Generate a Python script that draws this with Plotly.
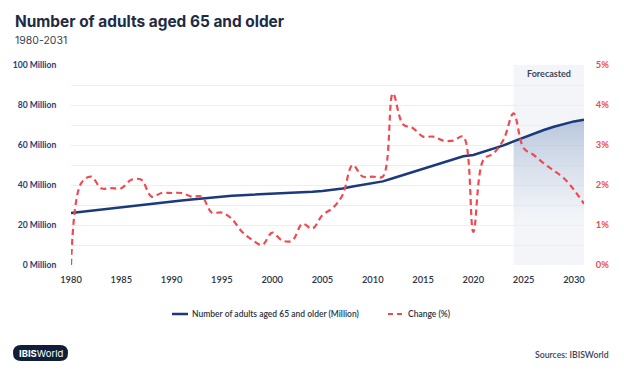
import plotly.graph_objects as go

# ---------------- data ----------------
years = list(range(1980, 2032))
adults_million = [
    26.0, 26.6, 27.2, 27.7, 28.2, 28.8, 29.4, 30.0, 30.5, 31.1,
    31.7, 32.3, 32.8, 33.3, 33.8, 34.3, 34.6, 34.9, 35.1, 35.3,
    35.6, 35.8, 36.0, 36.3, 36.6, 37.0, 37.6, 38.3, 39.2, 40.0,
    40.9, 41.8, 43.4, 45.0, 46.6, 48.2, 49.8, 51.4, 53.0, 54.4,
    55.0, 56.5, 58.0, 59.8, 61.8, 63.8, 65.7, 67.5, 69.1, 70.6,
    71.8, 72.6,
]
change_pct = [
    0.00, 2.04, 2.21, 1.92, 1.92, 1.92, 2.13, 2.13, 1.71, 1.80,
    1.80, 1.80, 1.71, 1.71, 1.31, 1.31, 1.15, 0.83, 0.63, 0.50,
    0.81, 0.61, 0.61, 1.03, 0.91, 1.25, 1.42, 1.75, 2.50, 2.21,
    2.21, 2.21, 4.29, 3.52, 3.42, 3.21, 3.21, 3.11, 3.11, 3.21,
    0.83, 2.63, 2.79, 3.13, 3.79, 2.92, 2.75, 2.54, 2.36, 2.17,
    1.88, 1.53,
]
forecast_start = 2024
x_ticks = [1980, 1985, 1990, 1995, 2000, 2005, 2010, 2015, 2020, 2025, 2030]
left_ticks = [0, 10, 20, 30, 40, 50, 60, 70, 80, 90, 100]
left_labels = ["0 Million", "", "20 Million", "", "40 Million", "", "60 Million", "",
               "80 Million", "", "100 Million"]
right_ticks = [0, 1, 2, 3, 4, 5]
right_labels = ["0%", "1%", "2%", "3%", "4%", "5%"]

title_text = "Number of adults aged 65 and older"
subtitle_text = "1980-2031"
series_names = ["Number of adults aged 65 and older (Million)", "Change (%)"]

# ---------------- layout helpers (pixel -> paper) ----------------
W, H = 624, 376
L, R, T, B = 71, 584, 65, 265


def px(x):
    return (x - L) / (R - L)


def py(y):
    return (B - y) / (B - T)


FONT = "Inter, Lato, sans-serif"
SMALL = "Lato, Inter, sans-serif"
BLUE = "#1b3a7b"
RED = "#f04a50"
TEXT = "#2b3242"

fi = years.index(forecast_start)

fig = go.Figure()

# gradient fill under forecast portion
fig.add_trace(go.Scatter(
    x=years[fi:], y=adults_million[fi:],
    mode="lines", line=dict(width=0, color=BLUE),
    fill="tozeroy",
    fillgradient=dict(type="vertical",
                      colorscale=[[0, "rgba(150,172,205,0)"], [1, "rgba(110,140,185,0.45)"]],
                      start=22, stop=73),
    showlegend=False, hoverinfo="skip",
))

fig.add_trace(go.Scatter(
    x=years, y=adults_million, mode="lines",
    line=dict(color=BLUE, width=2.5),
    name=series_names[0], showlegend=False,
))

fig.add_trace(go.Scatter(
    x=years, y=change_pct, mode="lines", yaxis="y2",
    line=dict(color=RED, width=2.2, dash="6px,4px", shape="spline", smoothing=1),
    name=series_names[1], showlegend=False,
))

fig.update_layout(
    width=W, height=H, autosize=False,
    margin=dict(l=L, r=W - R, t=T, b=H - B, pad=0),
    paper_bgcolor="white", plot_bgcolor="rgba(0,0,0,0)",
    font=dict(family=SMALL, size=9, color=TEXT),
    xaxis=dict(range=[1980, 2031], tickvals=x_ticks, showgrid=False, zeroline=False,
               showline=False, ticks="outside", ticklen=6, tickcolor="rgba(0,0,0,0)",
               tickfont=dict(family=SMALL, size=9.3, color=TEXT, weight=600)),
    yaxis=dict(range=[0, 100], tickvals=left_ticks, ticktext=left_labels,
               showgrid=True, gridcolor="#eceef1", gridwidth=1.2, zeroline=False,
               showline=False, ticks="outside", ticklen=12, tickcolor="rgba(0,0,0,0)",
               tickfont=dict(family=SMALL, size=8.6, color="#27407a", weight=700)),
    yaxis2=dict(range=[0, 5], overlaying="y", side="right", tickvals=right_ticks,
                ticktext=right_labels, showgrid=False, zeroline=False, showline=False,
                ticks="outside", ticklen=9, tickcolor="rgba(0,0,0,0)",
                tickfont=dict(family=SMALL, size=9.3, color=RED, weight=700)),
    showlegend=False,
)

shapes = [
    dict(type="rect", xref="x", yref="paper", x0=forecast_start, x1=2031, y0=0, y1=1,
         fillcolor="#f3f5f9", line=dict(width=0), layer="below"),
]
# badge pill
bx0, bx1, by0, by1 = px(13), px(68), py(361), py(345)
rx, ry = 8 / (R - L), 8 / (B - T)
path = (f"M {bx0+rx},{by0} L {bx1-rx},{by0} Q {bx1},{by0} {bx1},{by0+ry} "
        f"L {bx1},{by1-ry} Q {bx1},{by1} {bx1-rx},{by1} L {bx0+rx},{by1} "
        f"Q {bx0},{by1} {bx0},{by1-ry} L {bx0},{by0+ry} Q {bx0},{by0} {bx0+rx},{by0} Z")
shapes.append(dict(type="path", xref="paper", yref="paper", path=path,
                   fillcolor="#0f1f3a", line=dict(width=0)))
# legend keys
ly = py(314)
shapes.append(dict(type="line", xref="paper", yref="paper", x0=px(172), x1=px(188),
                   y0=ly, y1=ly, line=dict(color=BLUE, width=2.5)))
shapes.append(dict(type="line", xref="paper", yref="paper", x0=px(388), x1=px(403),
                   y0=ly, y1=ly, line=dict(color=RED, width=2.2, dash="5px,4px")))
fig.update_layout(shapes=shapes)

annotations = [
    dict(text=title_text, x=px(13), y=py(22), xref="paper", yref="paper",
         xanchor="left", yanchor="middle", showarrow=False,
         font=dict(family=FONT, size=15.4, color="#1e2b45", weight=700)),
    dict(text=subtitle_text, x=px(13), y=py(40), xref="paper", yref="paper",
         xanchor="left", yanchor="middle", showarrow=False,
         font=dict(family=FONT, size=10.5, color="#3a4356")),
    dict(text="Forecasted", x=2027.5, y=py(73), xref="x", yref="paper",
         xanchor="center", yanchor="middle", showarrow=False,
         font=dict(family=SMALL, size=9, color="#3f4656", weight=700)),
    dict(text="<b>IBIS</b>World", x=px(40.5), y=py(353), xref="paper", yref="paper",
         xanchor="center", yanchor="middle", showarrow=False,
         font=dict(family=FONT, size=9.5, color="white")),
    dict(text="Sources: IBISWorld", x=px(611), y=py(354), xref="paper", yref="paper",
         xanchor="right", yanchor="middle", showarrow=False,
         font=dict(family=SMALL, size=8.7, color="#3a4356", weight=600)),
    dict(text=series_names[0], x=px(190), y=ly, xref="paper", yref="paper",
         xanchor="left", yanchor="middle", showarrow=False,
         font=dict(family=SMALL, size=8.5, color=TEXT, weight=600)),
    dict(text=series_names[1], x=px(406), y=ly, xref="paper", yref="paper",
         xanchor="left", yanchor="middle", showarrow=False,
         font=dict(family=SMALL, size=8.5, color=TEXT, weight=600)),
]
fig.update_layout(annotations=annotations)

fig.write_html("out.html", config={"displayModeBar": False},
               post_script="document.body.style.margin='0px';")
